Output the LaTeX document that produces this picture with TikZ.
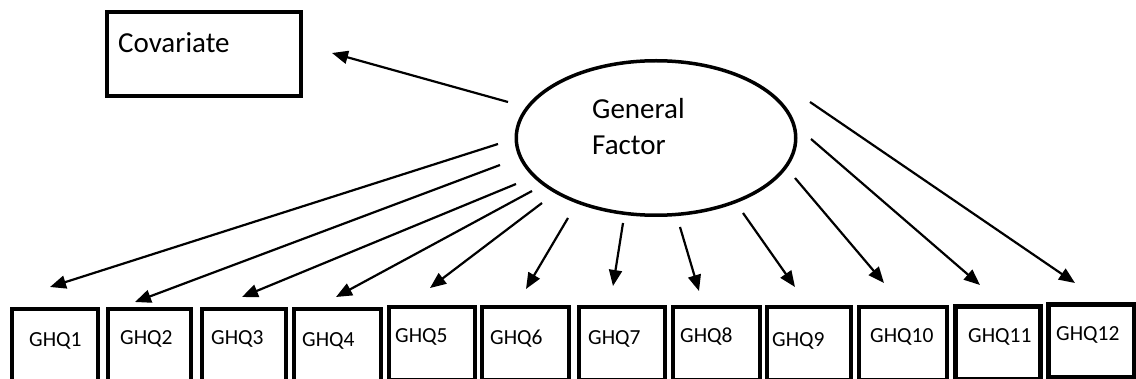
\documentclass[tikz,border=0pt]{standalone}
\usepackage{fontspec}
\setmainfont{Carlito}
\usetikzlibrary{arrows.meta,shapes.geometric}
\begin{document}
\begin{tikzpicture}[x=1pt,y=-1pt,
  box/.style={draw, line width=4pt, inner sep=0pt, anchor=north west, minimum height=73pt},
  lab/.style={font=\fontsize{21.5pt}{26pt}\selectfont, inner sep=0pt, anchor=base west},
  biglab/.style={font=\fontsize{29pt}{34pt}\selectfont, inner sep=0pt, anchor=base west},
  arr/.style={line width=2.2pt, -{Triangle[length=16pt,width=13pt]}}]
\useasboundingbox (0,0) rectangle (1136,379);
% covariate
\node[draw, line width=4pt, inner sep=0pt, anchor=north west, minimum width=194pt, minimum height=84pt] (cov) at (105,10) {};
\node[biglab] (covt) at (118,53) {Covariate};
% general factor
\node[draw, ellipse, line width=3.5pt, minimum width=279.5pt, minimum height=154.5pt, inner sep=0pt] (gf) at (656,138) {};
\node[biglab] (gft1) at (592,119) {General};
\node[biglab] (gft2) at (592,155) {Factor};
% boxes
\node[box, minimum width=86pt] (g1) at (10,307) {};
\node[box, minimum width=83pt] (g2) at (106,307) {};
\node[box, minimum width=84pt] (g3) at (200,307) {};
\node[box, minimum width=87pt] (g4) at (292,307) {};
\node[box, minimum width=86pt] (g5) at (387,305) {};
\node[box, minimum width=87pt] (g6) at (480,305) {};
\node[box, minimum width=86pt] (g7) at (577,305) {};
\node[box, minimum width=87pt] (g8) at (671,305) {};
\node[box, minimum width=84pt] (g9) at (765,305) {};
\node[box, minimum width=88pt] (g10) at (857,305) {};
\node[box, minimum width=85pt, line width=5pt] (g11) at (953,304) {};
\node[box, minimum width=86pt, line width=5pt] (g12) at (1046,302) {};
\node[lab] (t1) at (29,347) {GHQ1};
\node[lab] (t2) at (120,345) {GHQ2};
\node[lab] (t3) at (211,345) {GHQ3};
\node[lab] (t4) at (302,347) {GHQ4};
\node[lab] (t5) at (395,343) {GHQ5};
\node[lab] (t6) at (490,345) {GHQ6};
\node[lab] (t7) at (588,345) {GHQ7};
\node[lab] (t8) at (680,343) {GHQ8};
\node[lab] (t9) at (772,347) {GHQ9};
\node[lab] (t10) at (870,343) {GHQ10};
\node[lab] (t11) at (968,343) {GHQ11};
\node[lab] (t12) at (1056,341) {GHQ12};
% arrow ends
\coordinate (sc) at (508,102); \coordinate (ec) at (332,53);
\coordinate (s1) at (498,144); \coordinate (e1) at (50,287);
\coordinate (s2) at (500,165); \coordinate (e2) at (135,302);
\coordinate (s3) at (516,184); \coordinate (e3) at (242,297);
\coordinate (s4) at (532,191); \coordinate (e4) at (336,297);
\coordinate (s5) at (542,203); \coordinate (e5) at (430,288);
\coordinate (s6) at (568,218); \coordinate (e6) at (526,289);
\coordinate (s7) at (623,223); \coordinate (e7) at (613,286);
\coordinate (s8) at (680,227); \coordinate (e8) at (699,291);
\coordinate (s9) at (743,213); \coordinate (e9) at (795,287);
\coordinate (s10) at (795,178); \coordinate (e10) at (884,283);
\coordinate (s11) at (811,139); \coordinate (e11) at (980,285);
\coordinate (s12) at (810,102); \coordinate (e12) at (1075,283);
\draw[arr] (sc) -- (ec);
\foreach \i in {1,...,12} {\draw[arr] (s\i) -- (e\i);}
\end{tikzpicture}
\end{document}
